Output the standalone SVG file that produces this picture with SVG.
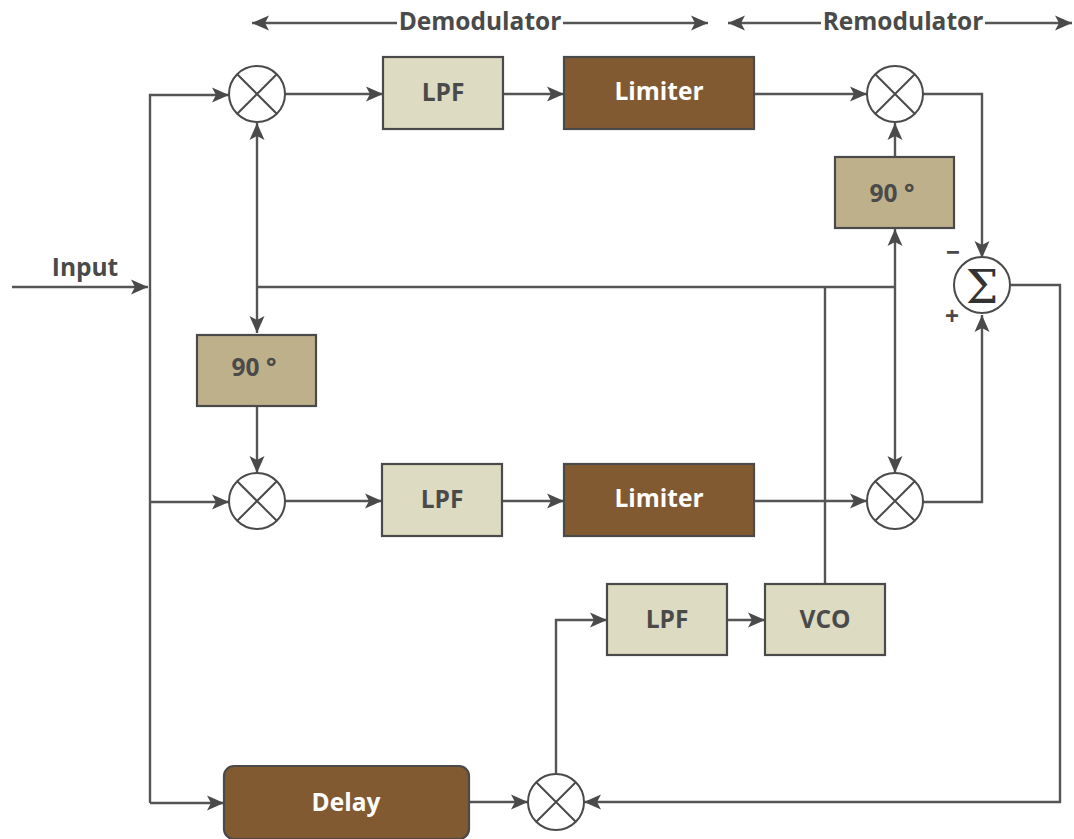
<svg xmlns="http://www.w3.org/2000/svg" width="1074" height="839" viewBox="0 0 1074 839">
<style>
text{font-family:"Open Sans","Noto Sans","Liberation Sans",sans-serif;font-weight:700;font-size:24.5px;text-anchor:middle;fill:#4a4a4a}
.w{fill:#fff}
.box{stroke:#4a4a4a;stroke-width:2.2}
.lt{fill:#dedbc3}.br{fill:#825a32}.tn{fill:#bfb08c}
.c{fill:#fff;stroke:#4a4a4a;stroke-width:2}
.x{stroke:#4a4a4a;stroke-width:2;fill:none}
#connectors path{fill:none;stroke:#555;stroke-width:2.4}
.a{marker-end:url(#arr)}
.b{marker-start:url(#arrs);marker-end:url(#arr)}
</style>
<defs>
<marker id="arr" markerUnits="userSpaceOnUse" markerWidth="20" markerHeight="18" refX="17" refY="9" orient="auto"><path d="M0 1.5L17 9L0 16.5L4 9Z" fill="#4a4a4a"/></marker>
<marker id="arrs" markerUnits="userSpaceOnUse" markerWidth="20" markerHeight="18" refX="0" refY="9" orient="auto"><path d="M17 1.5L0 9L17 16.5L13 9Z" fill="#4a4a4a"/></marker>
</defs>
<g id="connectors">
<path class="a" d="M12 287H148"/>
<path class="a" d="M150 803V95H229"/>
<path class="a" d="M150 502H229"/>
<path class="a" d="M150 803H224"/>
<path class="a" d="M285 94H383"/>
<path class="a" d="M503 94H564"/>
<path class="a" d="M754 94H867"/>
<path class="a" d="M923 94H982V258"/>
<path class="a" d="M895 157V123"/>
<path class="b" d="M257 123V333"/>
<path d="M257 287H895"/>
<path class="b" d="M895 229V473"/>
<path d="M825 287V584"/>
<path class="a" d="M257 407V473"/>
<path class="a" d="M285 501H382"/>
<path class="a" d="M502 501H564"/>
<path class="a" d="M754 501H867"/>
<path class="a" d="M923 502H982V315"/>
<path class="a" d="M1010 285H1060V802H584"/>
<path class="a" d="M469 802H528"/>
<path class="a" d="M556 774V620H607"/>
<path class="a" d="M727 620H765"/>
<path class="a" d="M397 23H252"/>
<path class="a" d="M563 23H708"/>
<path class="a" d="M821 23H728"/>
<path class="a" d="M985 23H1072"/>
</g>
<g id="demod-label"><text x="480" y="30">Demodulator</text></g>
<g id="remod-label"><text x="903" y="30">Remodulator</text></g>
<g id="input-label"><text x="85" y="276">Input</text></g>
<g id="mixer1"><circle class="c" cx="257" cy="94" r="28"/><path class="x" d="M237 74L277 114M277 74L237 114"/></g>
<g id="lpf1"><rect class="box lt" x="383" y="57" width="120" height="72"/><text x="443" y="101">LPF</text></g>
<g id="limiter1"><rect class="box br" x="564" y="57" width="190" height="72"/><text class="w" x="659" y="100">Limiter</text></g>
<g id="mixer2"><circle class="c" cx="895" cy="94" r="28"/><path class="x" d="M875 74L915 114M915 74L875 114"/></g>
<g id="phase1"><rect class="box tn" x="835" y="157" width="119" height="71"/><text x="892" y="202">90 °</text></g>
<g id="sum"><circle class="c" cx="982" cy="285" r="28"/><text x="982" y="303" style="font-family:'DejaVu Serif',serif;font-weight:400;font-size:46px;fill:#333">Σ</text></g>
<g id="minus"><text x="953" y="261">−</text></g>
<g id="plus"><text x="952" y="325">+</text></g>
<g id="phase2"><rect class="box tn" x="197" y="335" width="119" height="71"/><text x="254" y="376">90 °</text></g>
<g id="mixer3"><circle class="c" cx="257" cy="501" r="28"/><path class="x" d="M237 481L277 521M277 481L237 521"/></g>
<g id="lpf2"><rect class="box lt" x="382" y="464" width="120" height="72"/><text x="442" y="508">LPF</text></g>
<g id="limiter2"><rect class="box br" x="564" y="464" width="190" height="72"/><text class="w" x="659" y="507">Limiter</text></g>
<g id="mixer4"><circle class="c" cx="895" cy="501" r="28"/><path class="x" d="M875 481L915 521M915 481L875 521"/></g>
<g id="lpf3"><rect class="box lt" x="607" y="584" width="120" height="71"/><text x="667" y="628">LPF</text></g>
<g id="vco"><rect class="box lt" x="765" y="584" width="120" height="71"/><text x="825" y="628">VCO</text></g>
<g id="delay"><rect class="box br" x="224" y="766" width="245" height="73" rx="10"/><text class="w" x="346" y="811">Delay</text></g>
<g id="mixer5"><circle class="c" cx="556" cy="802" r="28"/><path class="x" d="M536 782L576 822M576 782L536 822"/></g>
</svg>
